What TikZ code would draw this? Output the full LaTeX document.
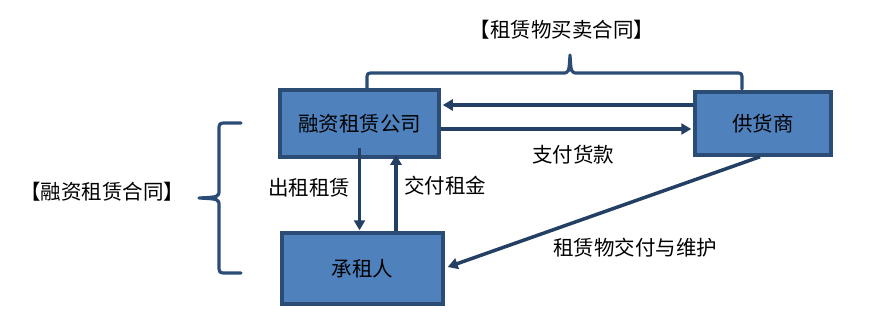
\documentclass[tikz,border=0pt]{standalone}
\usepackage{fontspec}
\setmainfont{Noto Sans CJK SC}
\usetikzlibrary{arrows.meta}
\definecolor{boxfill}{HTML}{4F81BD}
\definecolor{boxline}{HTML}{2B4C74}
\definecolor{arrcol}{HTML}{233F63}
\tikzset{
  party/.style={draw=boxline, line width=3.5pt, fill=boxfill, inner sep=0pt, font=\fontsize{20.5pt}{24pt}\selectfont},
  arr/.style={draw=arrcol, line width=3.5pt, -{Triangle[length=10pt,width=11pt]}},
  bracecurve/.style={draw=boxline, line width=3.2pt, line cap=round, line join=round},
  lbl/.style={inner sep=0pt, font=\fontsize{20.5pt}{24pt}\selectfont}
}
\begin{document}
\begin{tikzpicture}[x=1pt,y=-1pt]
\useasboundingbox (0,0) rectangle (869,327);
% boxes
\node[party, minimum width=159pt, minimum height=67pt] (A) at (359.5,123.5) {\raisebox{-4pt}{融资租赁公司}};
\node[party, minimum width=136pt, minimum height=63pt] (B) at (763,123.5) {\raisebox{-5pt}{供货商}};
\node[party, minimum width=161pt, minimum height=71pt] (C) at (362.5,268.5) {\raisebox{-4pt}{承租人}};
% arrows
\draw[arr] (B.west |- 0,105) -- ([xshift=2pt]A.east |- 0,105);
\draw[arr] (A.east |- 0,129) -- ([xshift=-2pt]B.west |- 0,129);
\draw[arr] ([yshift=11pt]A.south) -- ([yshift=1pt]A.south |- C.north);
\draw[arr] ([xshift=36.5pt]A.south |- C.north) -- ([xshift=36.5pt,yshift=4pt]A.south);
\draw[arr] ([xshift=-3pt]B.south) -- ([xshift=3pt,yshift=1.5pt]C.east);
% labels
\node[lbl] (l1) at (573,155) {支付货款};
\node[lbl] (l2) at (309,188) {出租租赁};
\node[lbl] (l3) at (445,186) {交付租金};
\node[lbl] (l4) at (635,248) {租赁物交付与维护};
\node[lbl] (l5) at (562,30) {【租赁物买卖合同】};
\node[lbl] (l6) at (102,192) {【融资租赁合同】};
% top brace
\draw[bracecurve] (367,89) -- (367,80) .. controls (367,73) .. (374,73) -- (562,73)
  .. controls (569,73) .. (570,55) .. controls (571,73) .. (578,73) -- (735,73)
  .. controls (742,73) .. (742,80) -- (742,89);
% left brace
\draw[bracecurve] (241,123) -- (227,123) .. controls (219,123) .. (219,131) -- (219,190)
  .. controls (219,197) .. (199,198) .. controls (219,199) .. (219,206) -- (219,265)
  .. controls (219,273) .. (227,273) -- (241,273);
\end{tikzpicture}
\end{document}
